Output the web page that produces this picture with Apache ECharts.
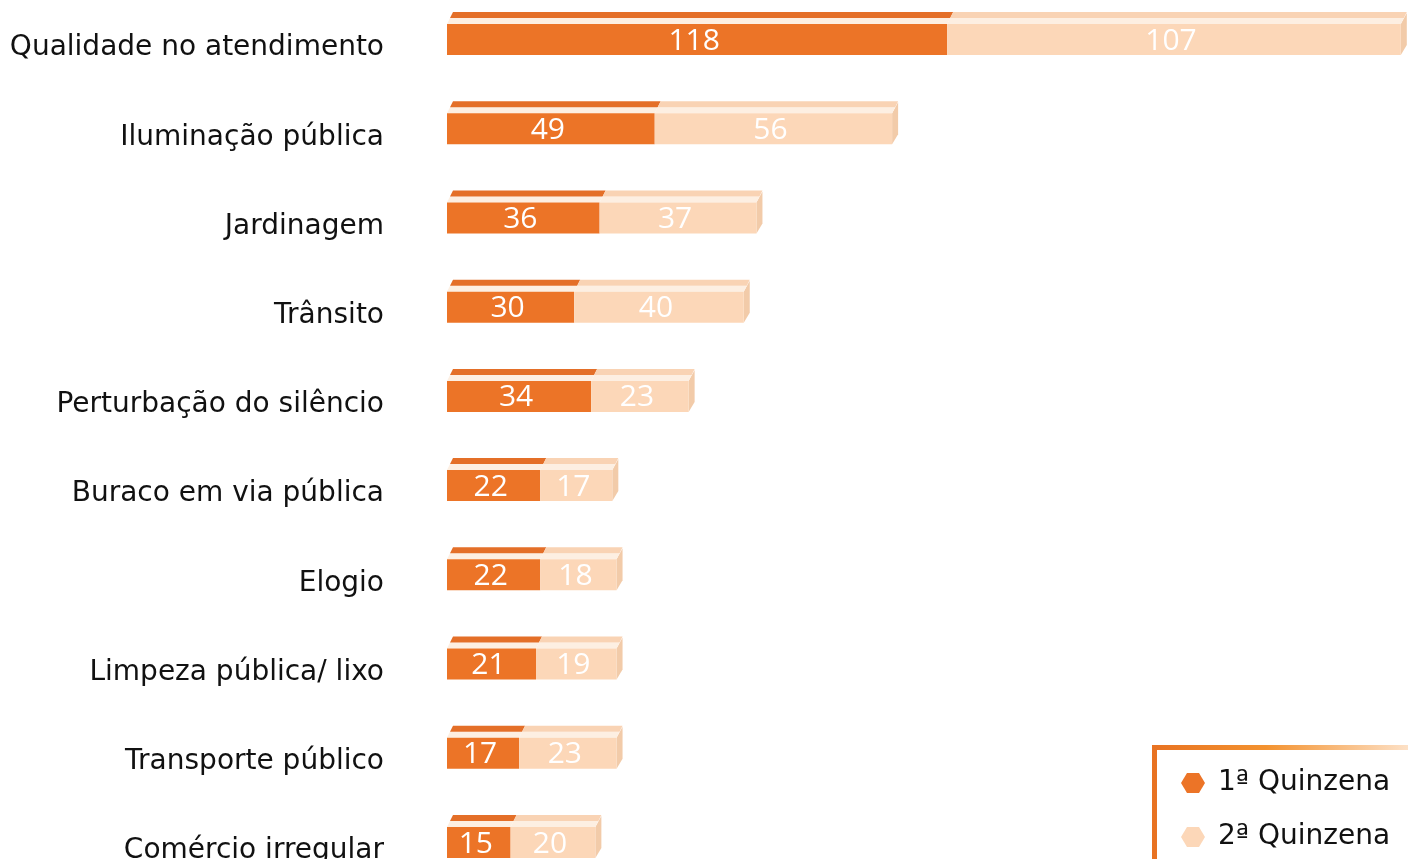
<!DOCTYPE html>
<html>
<head>
<meta charset="utf-8">
<script src="https://cdn.jsdelivr.net/npm/echarts@6/dist/echarts.min.js"></script>
<style>
html,body{margin:0;padding:0;background:#ffffff;}
#chart{width:1408px;height:859px;}
</style>
</head>
<body>
<div id="chart"></div>
<script>
const categories = ["Qualidade no atendimento","Iluminação pública","Jardinagem","Trânsito","Perturbação do silêncio","Buraco em via pública","Elogio","Limpeza pública/ lixo","Transporte público","Comércio irregular"];
const q1Name = "1ª Quinzena";
const q2Name = "2ª Quinzena";
const q1Values = [118,49,36,30,34,22,22,21,17,15];
const q2Values = [107,56,37,40,23,17,18,19,23,20];

const ORANGE = "#ec7427", ORANGE_TOP = "#e46f28", PEACH = "#fcd7b8", PEACH_TOP = "#f9d3b4", PEACH_SIDE = "#f2cba9", PALE = "#fdefe2";

const q1Data = q1Values.map((v,i)=>[i,0,v]);
const q2Data = q2Values.map((v,i)=>[i,q1Values[i],q1Values[i]+v]);

function makeRender(front, top, side){
  return function(params, api){
    const idx = api.value(0), s = api.value(1), e = api.value(2);
    const p0 = api.coord([s, idx]), p1 = api.coord([e, idx]);
    const x0 = p0[0], x1 = p1[0], y = p0[1] - 2;
    const ft = y - 16, fb = y + 15, tt = y - 28, tm = y - 22;
    const children = [
      {type:'polygon', shape:{points:[[x0,ft],[x0+3,tm],[x1+3,tm],[x1,ft]]}, style:{fill:PALE}},
      {type:'polygon', shape:{points:[[x0+3,tm],[x0+6,tt],[x1+6,tt],[x1+3,tm]]}, style:{fill:top}},
      {type:'rect', shape:{x:x0, y:ft, width:x1-x0, height:fb-ft}, style:{fill:front}},
      {type:'text', style:{text:String(e - s), x:(x0+x1)/2 - 3, y:y+1, align:'center', verticalAlign:'middle', fill:'#ffffff', fontSize:30, fontFamily:'"Open Sans", "Liberation Sans", sans-serif'}}
    ];
    if (side) {
      children.unshift({type:'polygon', shape:{points:[[x1,ft],[x1+6,tt+1],[x1+6,fb-10],[x1,fb]]}, style:{fill:side}});
    }
    return {type:'group', children};
  };
}

const chart = echarts.init(document.getElementById('chart'), null, {renderer:'canvas'});
chart.setOption({
  backgroundColor:'#ffffff',
  animation:false,
  grid:{left:447, top:42, width:975, height:803, containLabel:false, outerBoundsMode:'none'},
  xAxis:{type:'value', min:0, max:230, show:false},
  yAxis:{type:'category', inverse:true, boundaryGap:false, data:categories,
    axisLine:{show:false}, axisTick:{show:false}, splitLine:{show:false},
    axisLabel:{margin:63, fontSize:28, color:'#111111', fontFamily:'"DejaVu Sans", sans-serif', verticalAlign:'top', lineHeight:12}},
  legend:{orient:'vertical', left:1176, top:764, itemGap:26, itemWidth:24, itemHeight:24,
    icon:'path://M0,5 L3,0 L9,0 L12,5 L9,10 L3,10 Z',
    textStyle:{fontSize:28, color:'#111111', fontFamily:'"DejaVu Sans", sans-serif', padding:[0,0,0,8]},
    data:[q1Name, q2Name]},
  graphic:[{type:'rect', left:1152, top:745, shape:{width:320, height:160},
    style:{fill:'none', lineWidth:5, stroke:new echarts.graphic.LinearGradient(0,0,1,0,[{offset:0,color:'#e87222'},{offset:0.35,color:'#f3922f'},{offset:0.8,color:'#fde3cb'},{offset:1,color:'#ffffff'}])}}],
  series:[
    {name:q1Name, type:'custom', renderItem:makeRender(ORANGE, ORANGE_TOP, null), encode:{x:[1,2], y:0}, data:q1Data, itemStyle:{color:ORANGE}},
    {name:q2Name, type:'custom', renderItem:makeRender(PEACH, PEACH_TOP, PEACH_SIDE), encode:{x:[1,2], y:0}, data:q2Data, itemStyle:{color:PEACH}}
  ]
});
</script>
</body>
</html>
